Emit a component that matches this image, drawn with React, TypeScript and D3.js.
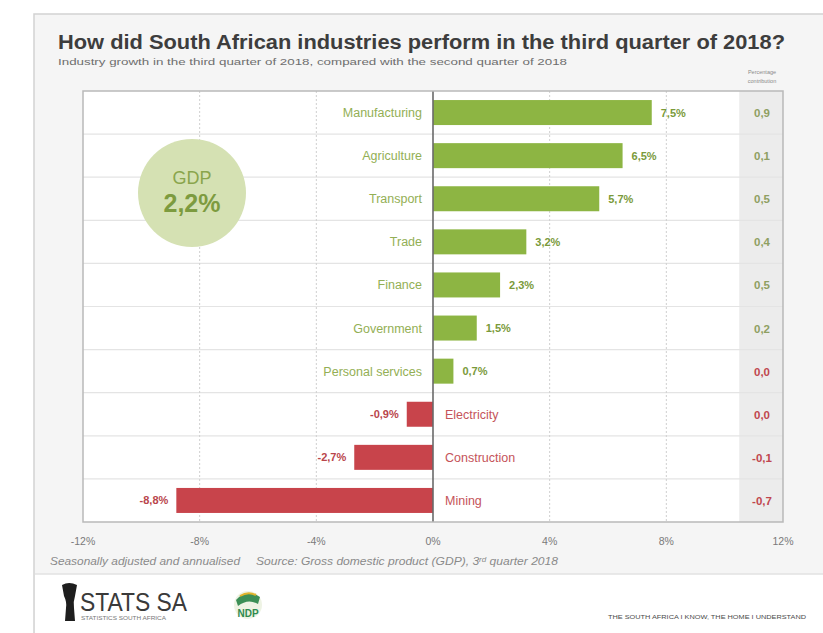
import React from "react";
import * as d3 from "d3";

const categories = ["Manufacturing", "Agriculture", "Transport", "Trade", "Finance", "Government", "Personal services", "Electricity", "Construction", "Mining"];
const growth = [7.5, 6.5, 5.7, 3.2, 2.3, 1.5, 0.7, -0.9, -2.7, -8.8];
const contribution = [0.9, 0.1, 0.5, 0.4, 0.5, 0.2, -0.0, -0.0, -0.1, -0.7];
const xTicks = [-12, -8, -4, 0, 4, 8, 12];
const gdpGrowth = 2.2;

const W = 823;
const H = 633;
const FONT = "'Liberation Sans', Arial, Helvetica, sans-serif";

const comma = (v: number, digits = 1) => {
  const neg = v < 0 && Math.abs(v) >= 0.05;
  return (neg ? "-" : "") + Math.abs(v).toFixed(digits).replace(".", ",");
};
const isNeg = (v: number) => v < 0 || Object.is(v, -0);

export default function App() {
  const left = 83, right = 783, top = 91, bottom = 522;
  const x = d3.scaleLinear().domain([-12, 12]).range([left, right]);
  const y = d3.scaleBand<string>().domain(categories).range([top, bottom]).paddingInner(0).paddingOuter(0);
  const bh = 25;
  const x0 = x(0);
  const grayX = x(10.5);

  const green = "#8db543";
  const red = "#c8444b";
  const greenText = "#93af55";
  const redText = "#c5535a";

  return (
    <svg width={W} height={H} style={{ position: "absolute", left: 0, top: 0, background: "#fff" }} fontFamily={FONT}>
      {/* outer frame */}
      <rect x={34} y={14} width={W} height={H} fill="#f5f5f5" stroke="#d2d2d2" strokeWidth={1.5} />
      <rect x={35} y={574} width={W} height={H - 574} fill="#ffffff" />
      <line x1={35} x2={W} y1={574} y2={574} stroke="#e2e2e2" strokeWidth={1.5} />

      {/* title */}
      <text x={58} y={49} fontSize={20} fontWeight="bold" fill="#3d3d3d" textLength={727} lengthAdjust="spacingAndGlyphs">
        How did South African industries perform in the third quarter of 2018?
      </text>
      <text x={58} y={65} fontSize={9.5} fill="#6e6e6e" textLength={509} lengthAdjust="spacingAndGlyphs">
        Industry growth in the third quarter of 2018, compared with the second quarter of 2018
      </text>
      <text x={762} y={74} fontSize={5.5} fill="#8a8a8a" textAnchor="middle">Percentage</text>
      <text x={762} y={83} fontSize={5.5} fill="#8a8a8a" textAnchor="middle">contribution</text>

      {/* chart box */}
      <rect x={left} y={top} width={right - left} height={bottom - top} fill="#ffffff" />
      <rect x={grayX} y={top} width={right - grayX} height={bottom - top} fill="#ececec" />

      {/* row separators */}
      {categories.slice(1).map((c) => (
        <line key={"r" + c} x1={left} x2={right} y1={y(c)!} y2={y(c)!} stroke="#e4e4e4" strokeWidth={1.2} />
      ))}

      {/* vertical dashed gridlines */}
      {xTicks.filter((t) => t !== 0 && Math.abs(t) !== 12).map((t) => (
        <line key={"g" + t} x1={x(t)} x2={x(t)} y1={top} y2={bottom} stroke="#cfcfcf" strokeDasharray="2,2" strokeWidth={1} />
      ))}

      {/* bars */}
      {categories.map((c, i) => {
        const v = growth[i];
        const yc = y(c)! + y.bandwidth() / 2;
        const pos = v >= 0;
        return (
          <g key={"b" + c}>
            <rect x={Math.min(x(v), x0)} y={yc - bh / 2} width={Math.abs(x(v) - x0)} height={bh} fill={pos ? green : red} />
            <text
              x={pos ? x(v) + 9 : x(v) - 8}
              y={yc + 4}
              fontSize={11}
              fontWeight="bold"
              textAnchor={pos ? "start" : "end"}
              fill={pos ? "#7a9a3a" : "#b9454b"}
            >
              {comma(v) + "%"}
            </text>
            <text
              x={pos ? x0 - 11 : x0 + 12}
              y={yc + 4.5}
              fontSize={12.5}
              textAnchor={pos ? "end" : "start"}
              fill={pos ? greenText : redText}
            >
              {c}
            </text>
            <text
              x={762}
              y={yc + 4.5}
              fontSize={11.5}
              fontWeight="bold"
              textAnchor="middle"
              fill={isNeg(contribution[i]) ? "#c0474e" : "#8f9f62"}
            >
              {comma(contribution[i])}
            </text>
          </g>
        );
      })}

      {/* zero line */}
      <line x1={x0} x2={x0} y1={top} y2={bottom} stroke="#6a6a6a" strokeWidth={1.6} />
      {/* box border */}
      <rect x={left} y={top} width={right - left} height={bottom - top} fill="none" stroke="#b9b9b9" strokeWidth={1.5} />

      {/* GDP circle */}
      <circle cx={192} cy={193} r={54} fill="#d5e1b3" />
      <text x={192} y={184} fontSize={18} fill="#8aa54c" textAnchor="middle">GDP</text>
      <text x={192} y={212} fontSize={25} fontWeight="bold" fill="#7d9b3f" textAnchor="middle">
        {comma(gdpGrowth) + "%"}
      </text>

      {/* x-axis tick labels */}
      {xTicks.map((t) => (
        <text key={"t" + t} x={x(t)} y={545} fontSize={10.5} fill="#7a7a7a" textAnchor="middle">
          {t + "%"}
        </text>
      ))}

      {/* footnote */}
      <text x={50} y={565} fontSize={10.5} fontStyle="italic" fill="#8a8a8a" textLength={190} lengthAdjust="spacingAndGlyphs">
        Seasonally adjusted and annualised
      </text>
      <text x={256} y={565} fontSize={10.5} fontStyle="italic" fill="#8a8a8a" textLength={302} lengthAdjust="spacingAndGlyphs">
        Source: Gross domestic product (GDP), 3
        <tspan fontSize={7} dy={-3}>rd</tspan>
        <tspan dy={3}> quarter 2018</tspan>
      </text>

      {/* footer logos (approximate) */}
      <g>
        <path d="M62,585 Q69,581 77,585 L75,596 Q73,602 74,608 L75,621 L65,621 L66,608 Q67,602 64,596 Z" fill="#1e1e1e" />
        <text x={80} y={611} fontSize={25} fill="#3a3a3a" textLength={107} lengthAdjust="spacingAndGlyphs">STATS SA</text>
        <text x={81} y={620} fontSize={5} fill="#777" textLength={85} lengthAdjust="spacingAndGlyphs">STATISTICS SOUTH AFRICA</text>
      </g>
      <g>
        <circle cx={248} cy={605} r={14} fill="#eef3e4" />
        <path d="M236,600 Q246,588 260,597 L258,604 Q248,598 238,606 Z" fill="#3c8f56" />
        <path d="M240,596 Q248,591 256,595" stroke="#e0b32c" strokeWidth={2} fill="none" />
        <text x={248} y={617} fontSize={10} fontWeight="bold" fill="#2f8a4e" textAnchor="middle">NDP</text>
      </g>
      <text x={608} y={619} fontSize={5.5} fill="#4a4a4a" textLength={198} lengthAdjust="spacingAndGlyphs">
        THE SOUTH AFRICA I KNOW, THE HOME I UNDERSTAND
      </text>
    </svg>
  );
}
